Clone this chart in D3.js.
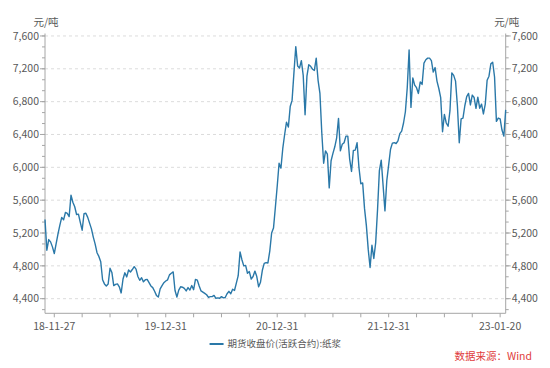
<!DOCTYPE html>
<html>
<head>
<meta charset="utf-8">
<script src="https://cdn.jsdelivr.net/npm/d3@7"></script>
<style>
  body { margin: 0; background: #fff; }
  text { font-family: "Noto Sans CJK SC", "Noto Sans", sans-serif; }
</style>
</head>
<body>
<div id="chart"></div>
<script>
// 期货收盘价(活跃合约):纸浆, one value per step on an even trading-day axis
var prices = [
  5364, 4990, 5120, 5092, 5031, 4950, 5070, 5190, 5295, 5390,
  5360, 5450, 5438, 5400, 5661, 5575, 5520, 5425, 5430, 5330,
  5234, 5435, 5440, 5390, 5320, 5250, 5150, 5065, 4960, 4915,
  4850, 4630, 4580, 4555, 4580, 4770, 4720, 4560, 4575, 4580,
  4545, 4470, 4640, 4715, 4665, 4750, 4725, 4755, 4790, 4760,
  4670, 4624, 4655, 4605, 4630, 4635, 4595, 4555, 4535, 4490,
  4440, 4420, 4520, 4560, 4595, 4615, 4630, 4690, 4710, 4726,
  4500, 4420, 4505, 4545, 4540, 4525, 4495, 4535, 4505, 4560,
  4510, 4635, 4625, 4555, 4495, 4480, 4465, 4448, 4415, 4425,
  4425, 4440, 4405, 4410, 4405, 4425, 4410, 4415, 4460, 4490,
  4460, 4515, 4500, 4590, 4680, 4970, 4875, 4800, 4805, 4710,
  4730, 4640, 4670, 4736, 4670, 4545, 4600, 4746, 4830, 4840,
  4835, 4980, 5200, 5260, 5510, 5770, 6050, 5990, 6230, 6400,
  6550, 6490, 6740, 6815, 7150, 7470, 7235, 7210, 7300, 7120,
  6640, 7110, 7250, 7230, 7195, 7180, 7330, 7060, 6900, 6420,
  6050, 6200, 6160, 5750, 6080, 6170, 6250, 6360, 6596, 6200,
  6280, 6300, 6380, 6380, 6100, 5950, 6205, 6210, 6300, 6000,
  5800, 5810, 5500, 5290, 5000, 4780, 5051, 4890, 5080, 5480,
  5960, 6088, 5780, 5470, 5840, 6030, 6220, 6295, 6300, 6290,
  6322, 6410, 6440, 6540, 6677, 6970, 7429, 6730, 7090, 7002,
  6970, 6900, 7040, 7010, 7270, 7310, 7330, 7330, 7300, 7160,
  7215, 7050, 6960, 6850, 6433, 6645, 6540, 6500, 6690, 7150,
  7120, 7050, 6750, 6300, 6590, 6600, 6750, 6860, 6900, 6760,
  6880, 6850, 6718, 6855, 6720, 6770, 6650, 6770, 7060, 7110,
  7260, 7280, 7100, 6560, 6600, 6590, 6454, 6380, 6700
];
var dateLabels = ["18-11-27", "19-12-31", "20-12-31", "21-12-31", "23-01-20"];
var dateLabelIdx = [5, 65, 125, 185, 245];
var yTicks = [4400, 4800, 5200, 5600, 6000, 6400, 6800, 7200, 7600];
var seriesName = "期货收盘价(活跃合约):纸浆";
var unitLabel = "元/吨";
var sourceText = "数据来源：Wind";

var W = 550, H = 368;
var plotL = 45, plotR = 505.7, plotT = 33.5, plotB = 313.3;
var lineColor = "#2a78a8", axisColor = "#a6a6a6", textColor = "#595959";

var svg = d3.select("#chart").append("svg")
  .attr("width", W).attr("height", H);

var x = d3.scaleLinear().domain([0, prices.length - 1]).range([plotL, plotR]);
var y = d3.scaleLinear().domain([4222, 7630]).range([plotB, plotT]);

// minor ticks
var xMinor = d3.range(dateLabelIdx[0], prices.length - 1, 15);
var yMinor = d3.range(4400 - 400 / 3, 7640, 400 / 3).filter(function(v) {
  return v > 4222;
});

// grid
svg.append("g").selectAll("line")
  .data(yTicks).enter().append("line")
  .attr("x1", plotL).attr("x2", plotR)
  .attr("y1", function(d) { return y(d); })
  .attr("y2", function(d) { return y(d); })
  .attr("stroke", "#dcdcdc")
  .attr("stroke-dasharray", "3,3");

// left & right axes
function yAxisSide(ax, dir) {
  var g = svg.append("g");
  g.append("line").attr("x1", ax).attr("x2", ax)
    .attr("y1", plotT).attr("y2", plotB).attr("stroke", axisColor);
  g.selectAll("line.mn").data(yMinor).enter().append("line")
    .attr("class", "mn")
    .attr("x1", ax).attr("x2", ax + dir * 3)
    .attr("y1", function(d) { return y(d); })
    .attr("y2", function(d) { return y(d); })
    .attr("stroke", axisColor);
  g.selectAll("line.mj").data(yTicks).enter().append("line")
    .attr("class", "mj")
    .attr("x1", ax).attr("x2", ax + dir * 5)
    .attr("y1", function(d) { return y(d); })
    .attr("y2", function(d) { return y(d); })
    .attr("stroke", axisColor);
  g.selectAll("text").data(yTicks).enter().append("text")
    .attr("x", ax + dir * 6)
    .attr("y", function(d) { return y(d); })
    .attr("dy", "0.35em")
    .attr("text-anchor", dir < 0 ? "end" : "start")
    .attr("font-size", 10.5)
    .attr("fill", textColor)
    .text(function(d) { return d3.format(",")(d); });
  svg.append("text")
    .attr("x", ax + 1).attr("y", 22)
    .attr("dy", "0.35em")
    .attr("text-anchor", "middle")
    .attr("font-size", 10.5)
    .attr("fill", textColor)
    .text(unitLabel);
}
yAxisSide(plotL, -1);
yAxisSide(plotR, 1);

// x axis
var gx = svg.append("g");
gx.append("line").attr("x1", plotL).attr("x2", plotR)
  .attr("y1", plotB).attr("y2", plotB).attr("stroke", axisColor);
gx.selectAll("line.t").data(xMinor).enter().append("line")
  .attr("class", "t")
  .attr("x1", function(d) { return x(d); })
  .attr("x2", function(d) { return x(d); })
  .attr("y1", plotB).attr("y2", plotB + 4)
  .attr("stroke", axisColor);
gx.selectAll("text").data(dateLabels).enter().append("text")
  .attr("x", function(d, i) { return x(dateLabelIdx[i]); })
  .attr("y", plotB + 13)
  .attr("dy", "0.35em")
  .attr("text-anchor", "middle")
  .attr("font-size", 10.5)
  .attr("fill", textColor)
  .text(function(d) { return d; });

// series
var line = d3.line()
  .x(function(d, i) { return x(i); })
  .y(function(d) { return y(d); });
svg.append("path").datum(prices)
  .attr("d", line)
  .attr("fill", "none")
  .attr("stroke", lineColor)
  .attr("stroke-width", 1.4)
  .attr("stroke-linejoin", "round");

// legend, centred under the plot
var lg = svg.append("g");
lg.append("line").attr("x1", 0).attr("x2", 14)
  .attr("y1", 344).attr("y2", 344)
  .attr("stroke", lineColor).attr("stroke-width", 2);
var lt = lg.append("text").attr("x", 18).attr("y", 344).attr("dy", "0.35em")
  .attr("font-size", 9.5).attr("fill", textColor).text(seriesName);
var lw = 18 + lt.node().getComputedTextLength();
lg.attr("transform", "translate(" + ((plotL + plotR) / 2 - lw / 2) + ",0)");

// source
svg.append("text").attr("x", 532).attr("y", 356).attr("dy", "0.35em")
  .attr("text-anchor", "end")
  .attr("font-size", 10.5).attr("fill", "#e03c3c").text(sourceText);
</script>
</body>
</html>
